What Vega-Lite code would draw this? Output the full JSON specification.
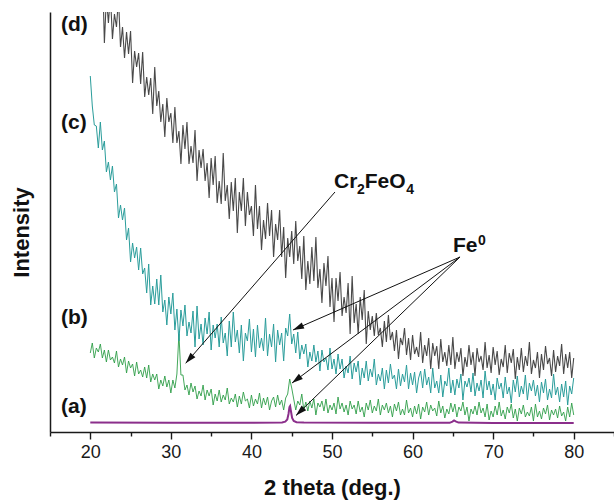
{
  "$schema": "https://vega.github.io/schema/vega-lite/v6.json",
  "width": 564,
  "height": 420,
  "autosize": {"type": "none"},
  "padding": {"left": 50, "top": 12, "right": 0, "bottom": 68},
  "background": "white",
  "config": {"view": {"stroke": null}, "axis": {"grid": false}},
  "datasets": {
    "scan": [
      {"x":20,"b":79,"c":356,"d":488},{"x":20.25,"b":89,"c":326,"d":453},{"x":20.5,"b":74,"c":307,"d":484},{"x":20.75,"b":84,"c":306,"d":449},
      {"x":21,"b":80,"c":284,"d":459},{"x":21.25,"b":88,"c":310,"d":424},{"x":21.5,"b":74,"c":282,"d":468},{"x":21.75,"b":82,"c":291,"d":389},
      {"x":22,"b":70,"c":260,"d":435},{"x":22.25,"b":82,"c":270,"d":409},{"x":22.5,"b":72,"c":252,"d":437},{"x":22.75,"b":75,"c":266,"d":393},
      {"x":23,"b":69,"c":240,"d":418},{"x":23.25,"b":81,"c":248,"d":405},{"x":23.5,"b":65,"c":214,"d":434},{"x":23.75,"b":73,"c":227,"d":385},
      {"x":24,"b":67,"c":212,"d":405},{"x":24.25,"b":75,"c":224,"d":374},{"x":24.5,"b":59,"c":192,"d":400},{"x":24.75,"b":71,"c":204,"d":378},
      {"x":25,"b":64,"c":170,"d":401},{"x":25.25,"b":68,"c":189,"d":349},{"x":25.5,"b":56,"c":174,"d":381},{"x":25.75,"b":70,"c":185,"d":365},
      {"x":26,"b":58,"c":162,"d":379},{"x":26.25,"b":62,"c":184,"d":348},{"x":26.5,"b":55,"c":158,"d":380},{"x":26.75,"b":65,"c":164,"d":335},
      {"x":27,"b":54,"c":139,"d":355},{"x":27.25,"b":67,"c":168,"d":337},{"x":27.5,"b":50,"c":127,"d":354},{"x":27.75,"b":58,"c":146,"d":318},
      {"x":28,"b":52,"c":128,"d":365},{"x":28.25,"b":58,"c":153,"d":326},{"x":28.5,"b":43,"c":127,"d":341},{"x":28.75,"b":52,"c":157,"d":310},
      {"x":29,"b":46,"c":120,"d":328},{"x":29.25,"b":56,"c":132,"d":295},{"x":29.5,"b":45,"c":107,"d":334},{"x":29.75,"b":52,"c":135,"d":310},
      {"x":30,"b":39,"c":118,"d":319},{"x":30.25,"b":52,"c":139,"d":289},{"x":30.5,"b":44,"c":102,"d":325},{"x":30.75,"b":58,"c":123,"d":289},
      {"x":31,"b":98,"c":91,"d":301},{"x":31.25,"b":57,"c":122,"d":268},{"x":31.5,"b":57,"c":106,"d":307},{"x":31.75,"b":42,"c":127,"d":283},
      {"x":32,"b":47,"c":96,"d":310},{"x":32.25,"b":37,"c":110,"d":268},{"x":32.5,"b":49,"c":99,"d":286},{"x":32.75,"b":40,"c":121,"d":269},
      {"x":33,"b":46,"c":85,"d":302},{"x":33.25,"b":33,"c":126,"d":251},{"x":33.5,"b":41,"c":93,"d":282},{"x":33.75,"b":36,"c":108,"d":264},
      {"x":34,"b":47,"c":87,"d":283},{"x":34.25,"b":32,"c":114,"d":251},{"x":34.5,"b":42,"c":98,"d":269},{"x":34.75,"b":36,"c":120,"d":234},
      {"x":35,"b":43,"c":82,"d":274},{"x":35.25,"b":27,"c":107,"d":247},{"x":35.5,"b":38,"c":94,"d":276},{"x":35.75,"b":31,"c":108,"d":229},
      {"x":36,"b":42,"c":85,"d":251},{"x":36.25,"b":30,"c":115,"d":228},{"x":36.5,"b":37,"c":89,"d":279},{"x":36.75,"b":32,"c":99,"d":231},
      {"x":37,"b":44,"c":76,"d":247},{"x":37.25,"b":28,"c":111,"d":213},{"x":37.5,"b":34,"c":85,"d":250},{"x":37.75,"b":30,"c":120,"d":221},
      {"x":38,"b":38,"c":90,"d":254},{"x":38.25,"b":25,"c":102,"d":199},{"x":38.5,"b":36,"c":79,"d":240},{"x":38.75,"b":28,"c":107,"d":221},
      {"x":39,"b":40,"c":71,"d":254},{"x":39.25,"b":31,"c":99,"d":206},{"x":39.5,"b":33,"c":91,"d":240},{"x":39.75,"b":24,"c":113,"d":217},
      {"x":40,"b":37,"c":80,"d":226},{"x":40.25,"b":26,"c":103,"d":196},{"x":40.5,"b":33,"c":75,"d":247},{"x":40.75,"b":28,"c":107,"d":203},
      {"x":41,"b":39,"c":84,"d":226},{"x":41.25,"b":24,"c":94,"d":182},{"x":41.5,"b":34,"c":81,"d":212},{"x":41.75,"b":27,"c":114,"d":193},
      {"x":42,"b":35,"c":76,"d":229},{"x":42.25,"b":22,"c":98,"d":196},{"x":42.5,"b":31,"c":85,"d":222},{"x":42.75,"b":35,"c":108,"d":175},
      {"x":43,"b":25,"c":70,"d":208},{"x":43.25,"b":37,"c":102,"d":192},{"x":43.5,"b":27,"c":87,"d":222},{"x":43.75,"b":32,"c":99,"d":175},
      {"x":44,"b":22,"c":71,"d":205},{"x":44.25,"b":34,"c":104,"d":154},{"x":44.5,"b":38,"c":96,"d":194},{"x":44.75,"b":53,"c":118,"d":175},
      {"x":45,"b":44,"c":88,"d":201},{"x":45.25,"b":33,"c":98,"d":168},{"x":45.5,"b":22,"c":79,"d":211},{"x":45.75,"b":31,"c":100,"d":171},
      {"x":46,"b":27,"c":73,"d":186},{"x":46.25,"b":38,"c":87,"d":153},{"x":46.5,"b":22,"c":78,"d":196},{"x":46.75,"b":30,"c":88,"d":142},
      {"x":47,"b":21,"c":65,"d":171},{"x":47.25,"b":31,"c":80,"d":148},{"x":47.5,"b":24,"c":71,"d":185},{"x":47.75,"b":33,"c":87,"d":151},
      {"x":48,"b":17,"c":70,"d":195},{"x":48.25,"b":29,"c":81,"d":144},{"x":48.5,"b":25,"c":61,"d":163},{"x":48.75,"b":31,"c":82,"d":129},
      {"x":49,"b":21,"c":70,"d":169},{"x":49.25,"b":33,"c":74,"d":146},{"x":49.5,"b":19,"c":62,"d":176},{"x":49.75,"b":27,"c":84,"d":125},
      {"x":50,"b":22,"c":63,"d":154},{"x":50.25,"b":29,"c":73,"d":110},{"x":50.5,"b":18,"c":58,"d":154},{"x":50.75,"b":35,"c":78,"d":131},
      {"x":51,"b":23,"c":63,"d":160},{"x":51.25,"b":29,"c":73,"d":116},{"x":51.5,"b":20,"c":54,"d":135},{"x":51.75,"b":27,"c":66,"d":119},
      {"x":52,"b":17,"c":59,"d":149},{"x":52.25,"b":31,"c":76,"d":98},{"x":52.5,"b":23,"c":53,"d":156},{"x":52.75,"b":27,"c":69,"d":109},
      {"x":53,"b":18,"c":60,"d":128},{"x":53.25,"b":31,"c":71,"d":98},{"x":53.5,"b":20,"c":47,"d":135},{"x":53.75,"b":25,"c":64,"d":112},
      {"x":54,"b":15,"c":54,"d":142},{"x":54.25,"b":29,"c":71,"d":88},{"x":54.5,"b":22,"c":51,"d":121},{"x":54.75,"b":32,"c":63,"d":102},
      {"x":55,"b":19,"c":55,"d":116},{"x":55.25,"b":26,"c":73,"d":96},{"x":55.5,"b":21,"c":47,"d":119},{"x":55.75,"b":33,"c":58,"d":97},
      {"x":56,"b":17,"c":51,"d":104},{"x":56.25,"b":27,"c":64,"d":85},{"x":56.5,"b":22,"c":43,"d":111},{"x":56.75,"b":29,"c":62,"d":90},
      {"x":57,"b":19,"c":49,"d":117},{"x":57.25,"b":26,"c":68,"d":92},{"x":57.5,"b":15,"c":53,"d":100},{"x":57.75,"b":28,"c":57,"d":81},
      {"x":58,"b":21,"c":43,"d":102},{"x":58.25,"b":30,"c":63,"d":73},{"x":58.5,"b":17,"c":46,"d":94},{"x":58.75,"b":23,"c":58,"d":87},
      {"x":59,"b":17,"c":50,"d":104},{"x":59.25,"b":32,"c":67,"d":77},{"x":59.5,"b":19,"c":43,"d":94},{"x":59.75,"b":24,"c":59,"d":72},
      {"x":60,"b":15,"c":47,"d":97},{"x":60.25,"b":26,"c":60,"d":78},{"x":60.5,"b":18,"c":39,"d":85},{"x":60.75,"b":28,"c":54,"d":75},
      {"x":61,"b":13,"c":61,"d":100},{"x":61.25,"b":25,"c":44,"d":69},{"x":61.5,"b":20,"c":63,"d":87},{"x":61.75,"b":30,"c":47,"d":76},
      {"x":62,"b":17,"c":55,"d":94},{"x":62.25,"b":27,"c":39,"d":63},{"x":62.5,"b":21,"c":64,"d":89},{"x":62.75,"b":24,"c":44,"d":76},
      {"x":63,"b":16,"c":51,"d":86},{"x":63.25,"b":31,"c":39,"d":63},{"x":63.5,"b":19,"c":57,"d":93},{"x":63.75,"b":26,"c":35,"d":70},
      {"x":64,"b":14,"c":51,"d":80},{"x":64.25,"b":23,"c":46,"d":66},{"x":64.5,"b":18,"c":64,"d":87},{"x":64.75,"b":29,"c":39,"d":67},
      {"x":65,"b":20,"c":52,"d":95},{"x":65.25,"b":28,"c":37,"d":63},{"x":65.5,"b":15,"c":53,"d":80},{"x":65.75,"b":25,"c":44,"d":70},
      {"x":66,"b":21,"c":58,"d":84},{"x":66.25,"b":30,"c":32,"d":56},{"x":66.5,"b":17,"c":51,"d":75},{"x":66.75,"b":25,"c":45,"d":65},
      {"x":67,"b":11,"c":54,"d":87},{"x":67.25,"b":23,"c":40,"d":67},{"x":67.5,"b":18,"c":59,"d":80},{"x":67.75,"b":26,"c":36,"d":56},
      {"x":68,"b":17,"c":49,"d":84},{"x":68.25,"b":30,"c":41,"d":70},{"x":68.5,"b":19,"c":52,"d":76},{"x":68.75,"b":24,"c":34,"d":62},
      {"x":69,"b":15,"c":61,"d":90},{"x":69.25,"b":28,"c":42,"d":64},{"x":69.5,"b":12,"c":51,"d":77},{"x":69.75,"b":21,"c":37,"d":59},
      {"x":70,"b":15,"c":48,"d":85},{"x":70.25,"b":26,"c":32,"d":67},{"x":70.5,"b":17,"c":54,"d":81},{"x":70.75,"b":30,"c":43,"d":57},
      {"x":71,"b":16,"c":49,"d":73},{"x":71.25,"b":22,"c":34,"d":65},{"x":71.5,"b":13,"c":55,"d":87},{"x":71.75,"b":25,"c":38,"d":59},
      {"x":72,"b":19,"c":45,"d":79},{"x":72.25,"b":28,"c":29,"d":69},{"x":72.5,"b":14,"c":52,"d":83},{"x":72.75,"b":23,"c":40,"d":53},
      {"x":73,"b":11,"c":56,"d":75},{"x":73.25,"b":24,"c":35,"d":62},{"x":73.5,"b":18,"c":46,"d":84},{"x":73.75,"b":27,"c":38,"d":60},
      {"x":74,"b":15,"c":57,"d":76},{"x":74.25,"b":20,"c":32,"d":66},{"x":74.5,"b":16,"c":49,"d":90},{"x":74.75,"b":25,"c":41,"d":58},
      {"x":75,"b":11,"c":52,"d":72},{"x":75.25,"b":28,"c":36,"d":64},{"x":75.5,"b":15,"c":47,"d":80},{"x":75.75,"b":21,"c":30,"d":54},
      {"x":76,"b":13,"c":50,"d":78},{"x":76.25,"b":24,"c":39,"d":62},{"x":76.5,"b":18,"c":53,"d":86},{"x":76.75,"b":27,"c":32,"d":68},
      {"x":77,"b":12,"c":43,"d":74},{"x":77.25,"b":22,"c":34,"d":56},{"x":77.5,"b":17,"c":58,"d":82},{"x":77.75,"b":23,"c":37,"d":60},
      {"x":78,"b":14,"c":45,"d":76},{"x":78.25,"b":26,"c":30,"d":66},{"x":78.5,"b":16,"c":48,"d":88},{"x":78.75,"b":20,"c":35,"d":58},
      {"x":79,"b":11,"c":51,"d":78},{"x":79.25,"b":25,"c":27,"d":64},{"x":79.5,"b":15,"c":46,"d":80},{"x":79.75,"b":29,"c":38,"d":54},
      {"x":80,"b":17,"c":54,"d":74}
    ],
    "ref": [
      {"x":20,"a":9.5},{"x":30,"a":9.3},{"x":40,"a":9.3},{"x":43.8,"a":9.6},{"x":44.2,"a":10.3},{"x":44.45,"a":12.5},
      {"x":44.6,"a":18},{"x":44.72,"a":25},{"x":44.8,"a":26},{"x":44.9,"a":21},{"x":45.05,"a":14},{"x":45.25,"a":11},
      {"x":45.6,"a":9.8},{"x":46.5,"a":9.4},{"x":55,"a":9.2},{"x":64.6,"a":9.2},{"x":64.95,"a":10.4},{"x":65.15,"a":11.6},
      {"x":65.35,"a":10.6},{"x":65.7,"a":9.4},{"x":70,"a":9.1},{"x":80,"a":9}
    ],
    "tags": [
      {"x":16.37,"y":407,"t":"(d)"},{"x":16.37,"y":309,"t":"(c)"},{"x":16.37,"y":114,"t":"(b)"},{"x":16.37,"y":25,"t":"(a)"}
    ],
    "big": [
      {"x":50.25,"y":244,"t":"Cr"},{"x":54.05,"y":244,"t":"FeO"},{"x":65.02,"y":180,"t":"Fe"}
    ],
    "small": [
      {"x":53.1,"y":238,"t":"2"},{"x":59.2,"y":238,"t":"4"},{"x":68.12,"y":187,"t":"0"}
    ],
    "arrows": [
      {"id":"cr","x":50.37,"y":240,"x2":31.84,"y2":68.7},
      {"id":"f1","x":65.89,"y":175,"x2":45.16,"y2":102},
      {"id":"f2","x":65.89,"y":175,"x2":45.04,"y2":49},
      {"id":"f3","x":65.89,"y":175,"x2":45.53,"y2":16.5}
    ]
  },
  "layer": [
    {
      "data": {"name": "scan"},
      "mark": {"type": "line", "color": "#2f9e48", "strokeWidth": 0.9, "clip": true},
      "encoding": {
        "x": {"field": "x", "type": "quantitative", "scale": {"domain": [15, 85], "nice": false},
          "axis": {"title": "2 theta (deg.)", "values": [15,20,25,30,35,40,45,50,55,60,65,70,75,80,85],
            "labelExpr": "datum.value % 10 == 0 && datum.value >= 20 && datum.value <= 80 ? datum.label : ''",
            "tickSize": {"condition": {"test": "datum.value % 10 == 0", "value": 7}, "value": 4},
            "domainColor": "#1a1a1a", "domainWidth": 1.5, "tickColor": "#1a1a1a", "tickWidth": 1.4,
            "labelFont": "Liberation Sans", "labelFontSize": 18, "labelColor": "#1a1a1a", "labelPadding": 4,
            "labelFlush": false, "labelOverlap": false,
            "titleFont": "Liberation Sans", "titleFontSize": 22, "titleFontWeight": "bold", "titleColor": "#111", "titlePadding": 16}},
        "y": {"field": "b", "type": "quantitative", "scale": {"domain": [0, 420], "nice": false, "zero": false},
          "axis": {"title": "Intensity", "ticks": false, "labels": false, "domainColor": "#1a1a1a", "domainWidth": 1.5,
            "titleFont": "Liberation Sans", "titleFontSize": 22, "titleFontWeight": "bold", "titleColor": "#111",
            "titlePadding": 17, "titleY": 220}}
      }
    },
    {
      "data": {"name": "scan"},
      "mark": {"type": "line", "color": "#2a9d9b", "strokeWidth": 1, "clip": true},
      "encoding": {
        "x": {"field": "x", "type": "quantitative", "scale": {"domain": [15, 85], "nice": false}},
        "y": {"field": "c", "type": "quantitative", "scale": {"domain": [0, 420], "nice": false, "zero": false}}
      }
    },
    {
      "data": {"name": "scan"},
      "mark": {"type": "line", "color": "#1c1c1c", "strokeWidth": 1.1, "opacity": 0.8, "clip": true},
      "encoding": {
        "x": {"field": "x", "type": "quantitative", "scale": {"domain": [15, 85], "nice": false}},
        "y": {"field": "d", "type": "quantitative", "scale": {"domain": [0, 420], "nice": false, "zero": false}}
      }
    },
    {
      "data": {"name": "ref"},
      "mark": {"type": "line", "color": "#8b2f8b", "strokeWidth": 2, "clip": true},
      "encoding": {
        "x": {"field": "x", "type": "quantitative", "scale": {"domain": [15, 85], "nice": false}},
        "y": {"field": "a", "type": "quantitative", "scale": {"domain": [0, 420], "nice": false, "zero": false}}
      }
    },
    {
      "data": {"name": "arrows"},
      "mark": {"type": "rule", "color": "#111", "strokeWidth": 1},
      "encoding": {
        "x": {"field": "x", "type": "quantitative", "scale": {"domain": [15, 85], "nice": false}},
        "y": {"field": "y", "type": "quantitative", "scale": {"domain": [0, 420], "nice": false, "zero": false}},
        "x2": {"field": "x2"},
        "y2": {"field": "y2"}
      }
    },
    {
      "data": {"name": "arrows"},
      "transform": [{"filter": {"field": "id", "equal": "cr"}}],
      "mark": {"type": "point", "shape": "M0,0L-0.6,2L0.6,2Z", "filled": true, "size": 121, "angle": 221.1, "color": "#111", "opacity": 1},
      "encoding": {
        "x": {"field": "x2", "type": "quantitative", "scale": {"domain": [15, 85], "nice": false}},
        "y": {"field": "y2", "type": "quantitative", "scale": {"domain": [0, 420], "nice": false, "zero": false}}
      }
    },
    {
      "data": {"name": "arrows"},
      "transform": [{"filter": {"field": "id", "equal": "f1"}}],
      "mark": {"type": "point", "shape": "M0,0L-0.6,2L0.6,2Z", "filled": true, "size": 121, "angle": 246.4, "color": "#111", "opacity": 1},
      "encoding": {
        "x": {"field": "x2", "type": "quantitative", "scale": {"domain": [15, 85], "nice": false}},
        "y": {"field": "y2", "type": "quantitative", "scale": {"domain": [0, 420], "nice": false, "zero": false}}
      }
    },
    {
      "data": {"name": "arrows"},
      "transform": [{"filter": {"field": "id", "equal": "f2"}}],
      "mark": {"type": "point", "shape": "M0,0L-0.6,2L0.6,2Z", "filled": true, "size": 121, "angle": 233.1, "color": "#111", "opacity": 1},
      "encoding": {
        "x": {"field": "x2", "type": "quantitative", "scale": {"domain": [15, 85], "nice": false}},
        "y": {"field": "y2", "type": "quantitative", "scale": {"domain": [0, 420], "nice": false, "zero": false}}
      }
    },
    {
      "data": {"name": "arrows"},
      "transform": [{"filter": {"field": "id", "equal": "f3"}}],
      "mark": {"type": "point", "shape": "M0,0L-0.6,2L0.6,2Z", "filled": true, "size": 121, "angle": 225.9, "color": "#111", "opacity": 1},
      "encoding": {
        "x": {"field": "x2", "type": "quantitative", "scale": {"domain": [15, 85], "nice": false}},
        "y": {"field": "y2", "type": "quantitative", "scale": {"domain": [0, 420], "nice": false, "zero": false}}
      }
    },
    {
      "data": {"name": "tags"},
      "mark": {"type": "text", "align": "left", "baseline": "middle", "font": "Liberation Sans", "fontSize": 21, "fontWeight": "bold", "color": "#111"},
      "encoding": {
        "x": {"field": "x", "type": "quantitative", "scale": {"domain": [15, 85], "nice": false}},
        "y": {"field": "y", "type": "quantitative", "scale": {"domain": [0, 420], "nice": false, "zero": false}},
        "text": {"field": "t"}
      }
    },
    {
      "data": {"name": "big"},
      "mark": {"type": "text", "align": "left", "baseline": "alphabetic", "font": "Liberation Sans", "fontSize": 21, "fontWeight": "bold", "color": "#111"},
      "encoding": {
        "x": {"field": "x", "type": "quantitative", "scale": {"domain": [15, 85], "nice": false}},
        "y": {"field": "y", "type": "quantitative", "scale": {"domain": [0, 420], "nice": false, "zero": false}},
        "text": {"field": "t"}
      }
    },
    {
      "data": {"name": "small"},
      "mark": {"type": "text", "align": "left", "baseline": "alphabetic", "font": "Liberation Sans", "fontSize": 14, "fontWeight": "bold", "color": "#111"},
      "encoding": {
        "x": {"field": "x", "type": "quantitative", "scale": {"domain": [15, 85], "nice": false}},
        "y": {"field": "y", "type": "quantitative", "scale": {"domain": [0, 420], "nice": false, "zero": false}},
        "text": {"field": "t"}
      }
    }
  ]
}
